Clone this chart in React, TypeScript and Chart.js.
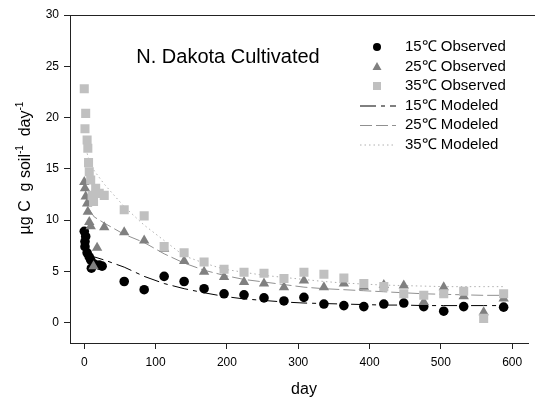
import React, { useEffect, useRef } from "react";
import { Chart, registerables } from "chart.js";
Chart.register(...registerables);

// ---- data ----
const obs15Days = [0, 2, 1, 1, 4, 7, 9, 10, 14, 21, 25, 56, 84, 112, 140, 168, 196, 224, 252, 280, 308, 336, 364, 392, 420, 448, 476, 504, 532, 588];
const obs15Vals = [8.9, 8.4, 7.9, 7.4, 6.8, 6.4, 6.1, 5.3, 5.7, 5.6, 5.5, 4.0, 3.2, 4.5, 4.0, 3.3, 2.8, 2.7, 2.4, 2.1, 2.45, 1.8, 1.65, 1.55, 1.8, 1.9, 1.55, 1.1, 1.55, 1.5];

const obs25Days = [0, 1, 2, 4, 5, 7, 9, 13, 18, 28, 56, 84, 112, 140, 168, 196, 224, 252, 280, 308, 336, 364, 392, 420, 448, 476, 504, 532, 560, 588];
const obs25Vals = [13.7, 13.1, 12.3, 11.6, 10.8, 9.8, 9.4, 5.5, 7.3, 9.3, 8.8, 8.0, 7.2, 6.0, 4.95, 4.45, 3.95, 3.8, 3.45, 4.1, 3.45, 3.8, 3.5, 3.65, 3.6, 2.0, 3.45, 2.55, 1.0, 2.35];

const obs35Days = [0, 1, 2, 4, 5, 6, 7, 9, 11, 13, 16, 21, 28, 56, 84, 112, 140, 168, 196, 224, 252, 280, 308, 336, 364, 392, 420, 448, 476, 504, 532, 560, 588];
const obs35Vals = [22.8, 18.9, 20.4, 17.8, 17.0, 15.6, 14.7, 13.9, 12.4, 11.8, 13.1, 12.6, 12.4, 11.0, 10.4, 7.4, 6.8, 5.9, 5.2, 4.9, 4.8, 4.3, 4.9, 4.7, 4.35, 3.8, 3.5, 2.8, 2.65, 2.8, 3.05, 0.4, 2.8];

const mod15Days = [7, 14, 28, 56, 84, 112, 140, 168, 196, 224, 252, 280, 308, 336, 364, 392, 420, 448, 476, 504, 532, 560, 588];
const mod15Vals = [6.8, 6.4, 6.1, 5.4, 4.5, 3.8, 3.3, 2.9, 2.55, 2.3, 2.15, 2.0, 1.9, 1.85, 1.8, 1.75, 1.7, 1.7, 1.65, 1.65, 1.65, 1.65, 1.65];

const mod25Days = [7, 14, 28, 56, 84, 112, 140, 168, 196, 224, 252, 280, 308, 336, 364, 392, 420, 448, 476, 504, 532, 560, 588];
const mod25Vals = [11.0, 10.3, 9.7, 8.6, 7.8, 6.7, 5.8, 5.1, 4.6, 4.2, 3.95, 3.7, 3.45, 3.3, 3.2, 3.1, 3.0, 2.9, 2.8, 2.75, 2.7, 2.65, 2.65];

const mod35Days = [4, 7, 14, 28, 56, 84, 112, 140, 168, 196, 224, 252, 280, 308, 336, 364, 392, 420, 448, 476, 504, 532, 560, 588];
const mod35Vals = [16.5, 15.8, 14.8, 13.5, 11.3, 9.5, 8.0, 6.5, 5.8, 5.2, 4.9, 4.6, 4.4, 4.2, 4.0, 3.85, 3.75, 3.65, 3.6, 3.55, 3.5, 3.5, 3.5, 3.5];

const legendLabels = ["15\u2103 Observed", "25\u2103 Observed", "35\u2103 Observed", "15\u2103 Modeled", "25\u2103 Modeled", "35\u2103 Modeled"];
const chartTitle = "N. Dakota Cultivated";
const xTitle = "day";

const FONT = "Arial, 'Liberation Sans', sans-serif";
const C15 = "#000000";
const C25 = "#808080";
const C35 = "#c0c0c0";
const L15 = "#000000";
const L25 = "#909090";
const L35 = "#b0b0b0";
const DASH15 = [16, 5, 4, 5];
const DASH25 = [12, 4];
const DASH35 = [1.5, 3];

const pts = (xs: number[], ys: number[]) => xs.map((x, i) => ({ x, y: ys[i] }));

const decorPlugin = {
  id: "decor",
  afterDraw(chart: any) {
    const ctx = chart.ctx as CanvasRenderingContext2D;
    const area = chart.chartArea;
    ctx.save();
    // top frame line
    ctx.strokeStyle = "#222";
    ctx.lineWidth = 1;
    ctx.setLineDash([]);
    ctx.beginPath();
    ctx.moveTo(area.left, area.top + 0.5);
    ctx.lineTo(chart.width, area.top + 0.5);
    ctx.stroke();

    // title
    ctx.fillStyle = "#000";
    ctx.font = `20px ${FONT}`;
    ctx.textAlign = "center";
    ctx.textBaseline = "middle";
    ctx.fillText(chartTitle, 228, 57);

    // x title
    ctx.font = `16px ${FONT}`;
    ctx.fillText(xTitle, 304, 390);

    // y title with superscripts
    ctx.save();
    ctx.translate(24, 168);
    ctx.rotate(-Math.PI / 2);
    const parts: [string, boolean][] = [["\u00b5g C  g soil", false], ["-1", true], ["  day", false], ["-1", true]];
    let total = 0;
    for (const [t, sup] of parts) {
      ctx.font = sup ? `10px ${FONT}` : `16px ${FONT}`;
      total += ctx.measureText(t).width;
    }
    let x = -total / 2;
    ctx.textAlign = "left";
    ctx.textBaseline = "alphabetic";
    for (const [t, sup] of parts) {
      ctx.font = sup ? `10px ${FONT}` : `16px ${FONT}`;
      ctx.fillText(t, x, sup ? -1 : 6);
      x += ctx.measureText(t).width;
    }
    ctx.restore();

    // legend
    const rows = [47, 66.5, 86, 105.5, 125, 144.5];
    const symX = 377;
    ctx.font = `15px ${FONT}`;
    ctx.textAlign = "left";
    ctx.textBaseline = "middle";
    ctx.fillStyle = "#000";
    legendLabels.forEach((lab, i) => ctx.fillText(lab, 405, rows[i]));
    // symbols
    ctx.fillStyle = C15;
    ctx.beginPath();
    ctx.arc(symX, rows[0], 4, 0, Math.PI * 2);
    ctx.fill();
    ctx.fillStyle = C25;
    ctx.beginPath();
    ctx.moveTo(symX, rows[1] - 4.5);
    ctx.lineTo(symX + 4.5, rows[1] + 3.5);
    ctx.lineTo(symX - 4.5, rows[1] + 3.5);
    ctx.closePath();
    ctx.fill();
    ctx.fillStyle = C35;
    ctx.fillRect(symX - 4, rows[2] - 4, 8, 8);
    const lines: [string, number[]][] = [[L15, DASH15], [L25, DASH25], [L35, DASH35]];
    lines.forEach(([col, dash], i) => {
      ctx.strokeStyle = col;
      ctx.lineWidth = 1;
      ctx.setLineDash(dash);
      ctx.beginPath();
      ctx.moveTo(360, rows[3 + i] + 0.5);
      ctx.lineTo(396, rows[3 + i] + 0.5);
      ctx.stroke();
    });
    ctx.restore();
  },
};

export default function App() {
  const ref = useRef<HTMLCanvasElement>(null);
  useEffect(() => {
    if (!ref.current) return;
    const tickFont = { family: FONT, size: 12 };
    const chart = new Chart(ref.current, {
      type: "scatter",
      data: {
        datasets: [
          { label: legendLabels[2], data: pts(obs35Days, obs35Vals), pointStyle: "rect", pointRadius: 6.4, backgroundColor: C35, borderWidth: 0, showLine: false },
          { label: legendLabels[1], data: pts(obs25Days, obs25Vals), pointStyle: "triangle", pointRadius: 6, backgroundColor: C25, borderWidth: 0, showLine: false },
          { label: legendLabels[0], data: pts(obs15Days, obs15Vals), pointStyle: "circle", pointRadius: 4.8, backgroundColor: C15, borderWidth: 0, showLine: false },
          { label: legendLabels[3], data: pts(mod15Days, mod15Vals), showLine: true, pointRadius: 0, borderColor: L15, borderWidth: 1, borderDash: DASH15 },
          { label: legendLabels[4], data: pts(mod25Days, mod25Vals), showLine: true, pointRadius: 0, borderColor: L25, borderWidth: 1, borderDash: DASH25 },
          { label: legendLabels[5], data: pts(mod35Days, mod35Vals), showLine: true, pointRadius: 0, borderColor: L35, borderWidth: 1, borderDash: DASH35 },
        ],
      },
      options: {
        animation: false,
        responsive: false,
        devicePixelRatio: 1,
        layout: { padding: { top: 15, right: 0, left: 0, bottom: 0 } },
        plugins: { legend: { display: false }, tooltip: { enabled: false }, title: { display: false } },
        scales: {
          x: {
            type: "linear",
            min: -20,
            max: 623,
            afterFit: (s: any) => { s.height = 58; },
            ticks: { stepSize: 100, includeBounds: false, font: tickFont, color: "#000", padding: 6, maxRotation: 0 },
            grid: { drawOnChartArea: false, drawTicks: true, tickLength: 6, color: "#222" },
            border: { display: true, color: "#222", width: 1 },
          },
          y: {
            type: "linear",
            min: -2,
            max: 30,
            afterFit: (s: any) => { s.width = 70; },
            ticks: { stepSize: 5, includeBounds: false, font: tickFont, color: "#000", padding: 5 },
            grid: { drawOnChartArea: false, drawTicks: true, tickLength: 6, color: "#222" },
            border: { display: true, color: "#222", width: 1 },
          },
        },
      },
      plugins: [decorPlugin],
    });
    return () => chart.destroy();
  }, []);
  return (
    <div style={{ position: "absolute", left: 0, top: 0, width: 535, height: 401, background: "#fff" }}>
      <canvas ref={ref} width={535} height={401} />
    </div>
  );
}
